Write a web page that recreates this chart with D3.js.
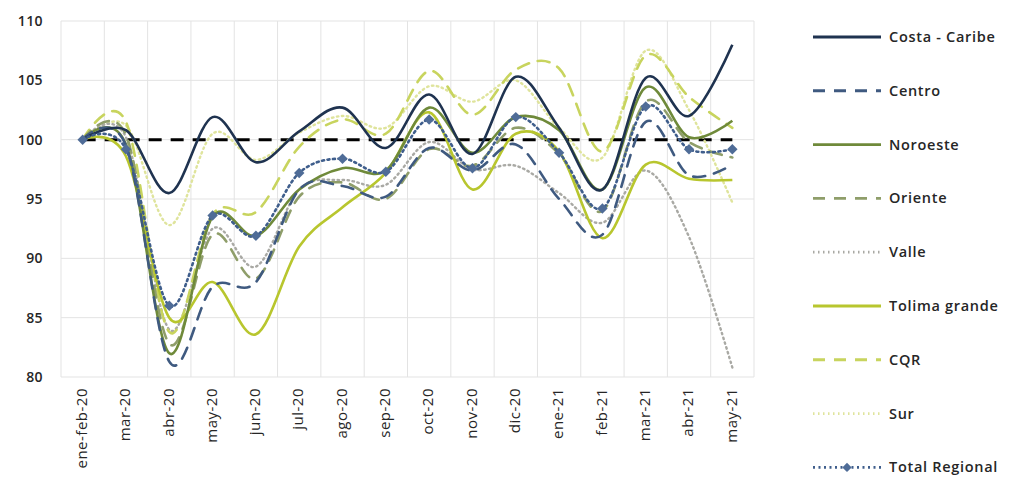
<!DOCTYPE html>
<html><head><meta charset="utf-8">
<script src="https://cdn.jsdelivr.net/npm/d3@7"></script>
<style>
body{margin:0;background:#fff;}
text{font-family:"Open Sans","Lato",sans-serif;}
</style></head>
<body><svg id="c" width="1011" height="477"></svg>
<script>
const categories = ["ene-feb-20","mar-20","abr-20","may-20","jun-20","jul-20","ago-20","sep-20","oct-20","nov-20","dic-20","ene-21","feb-21","mar-21","abr-21","may-21"];
const yTicks = [80,85,90,95,100,105,110];
const referenceValue = 100;
const costaCaribe   = [100,100.8,95.5,101.9,98.1,100.7,102.7,99.3,103.8,98.8,105.3,101.0,95.8,105.2,102.0,108.0];
const centro        = [100,99.5,81.3,87.6,88.0,95.8,96.1,95.2,99.3,97.4,99.6,95.0,92.0,101.5,97.0,97.9];
const noroeste      = [100,99.6,82.0,93.5,91.9,95.8,97.6,97.4,102.7,98.9,101.9,100.8,95.8,104.4,100.2,101.6];
const oriente       = [100,100.4,82.8,92.0,88.3,95.2,96.4,95.0,99.2,97.8,101.0,98.8,94.0,103.2,99.8,98.5];
const valle         = [100,100.2,84.0,92.5,89.3,95.8,96.6,96.2,99.8,97.5,97.8,95.5,93.0,97.4,91.8,80.8];
const tolimaGrande  = [100,98.6,85.0,88.0,83.6,91.0,94.3,97.2,102.3,95.8,100.5,99.0,91.7,97.9,96.7,96.6];
const cqr           = [100,101.5,83.8,93.7,93.9,99.4,101.7,100.5,105.8,102.1,105.9,106.0,99.0,107.1,103.6,101.0];
const sur           = [100,101.2,92.8,100.5,98.3,100.6,102.0,101.0,104.5,103.2,105.0,101.0,98.5,107.5,102.5,94.7];
const totalRegional = [100,99.2,86.0,93.6,91.9,97.2,98.4,97.3,101.7,97.6,101.9,98.9,94.2,102.8,99.2,99.2];

const seriesNames = ["Costa - Caribe","Centro","Noroeste","Oriente","Valle","Tolima grande","CQR","Sur","Total Regional"];
const seriesValues = [costaCaribe,centro,noroeste,oriente,valle,tolimaGrande,cqr,sur,totalRegional];
const styles = [
  {c:"#1f3350",w:2.6,d:null},
  {c:"#3f5a80",w:2.6,d:"12,9"},
  {c:"#6f8a3a",w:2.6,d:null},
  {c:"#8f9e6a",w:2.6,d:"12,9"},
  {c:"#a9a9a4",w:2.4,d:"1.5,3.5"},
  {c:"#b8c62e",w:2.6,d:null},
  {c:"#c8d45e",w:2.6,d:"12,9"},
  {c:"#dfe49c",w:2.4,d:"1.5,3.5"},
  {c:"#3f5e8c",w:2.6,d:"2,3.5",m:true}
];

const svg = d3.select("#c");
const L=61,R=754,T=21,B=377;
const x = d3.scaleBand().domain(categories).range([L,R]).padding(0);
const y = d3.scaleLinear().domain([80,110]).range([B,T]);
const cx = c => x(c)+x.bandwidth()/2;

// grid
const g = svg.append("g");
g.selectAll(".h").data(yTicks).join("line")
  .attr("x1",L).attr("x2",R).attr("y1",d=>y(d)).attr("y2",d=>y(d))
  .attr("stroke","#e3e3e3").attr("stroke-width",1);
const bounds = categories.map(c=>x(c)).concat([R]);
g.selectAll(".v").data(bounds).join("line")
  .attr("x1",d=>d).attr("x2",d=>d).attr("y1",T).attr("y2",B)
  .attr("stroke","#e3e3e3").attr("stroke-width",1);

// y axis
const ya = svg.append("g").attr("transform",`translate(${L-18},0)`)
  .call(d3.axisLeft(y).tickValues(yTicks).tickSize(0).tickPadding(0));
ya.select(".domain").remove();
ya.selectAll("text").attr("font-size",14).attr("font-weight",600).attr("fill","#262626")
  .attr("font-family","Open Sans").attr("letter-spacing",0.4);

// x axis
const xa = svg.append("g").attr("transform",`translate(0,${B})`)
  .call(d3.axisBottom(x).tickSize(0).tickPadding(0));
xa.select(".domain").remove();
xa.selectAll("text").attr("font-size",15).attr("font-weight",500).attr("fill","#262626")
  .attr("font-family","Open Sans").attr("letter-spacing",0.5)
  .attr("text-anchor","end").attr("transform","translate(-1,11) rotate(-90)")
  .attr("dy","0.35em").attr("y",0).attr("x",0);

// reference line
svg.append("line").attr("x1",cx(categories[0])).attr("x2",cx(categories[categories.length-1]))
  .attr("y1",y(referenceValue)).attr("y2",y(referenceValue))
  .attr("stroke","#000").attr("stroke-width",3).attr("stroke-dasharray","13,9");

const line = d3.line().x((d,i)=>cx(categories[i])).y(d=>y(d)).curve(d3.curveCatmullRom.alpha(0));

const order = [7,4,6,3,5,2,1,0,8];
order.forEach(k=>{
  const s=styles[k];
  svg.append("path").attr("d",line(seriesValues[k])).attr("fill","none")
    .attr("stroke",s.c).attr("stroke-width",s.w)
    .attr("stroke-dasharray",s.d).attr("stroke-linecap",(s.d&&s.d.length<8)?"round":"butt");
  if(s.m){
    svg.selectAll(".mk").data(seriesValues[k]).join("path")
      .attr("transform",(d,i)=>`translate(${cx(categories[i])},${y(d)})`)
      .attr("d",d3.symbol(d3.symbolDiamond2,70)()).attr("fill","#4f6c97");
  }
});

// legend
const lg = svg.append("g");
seriesNames.forEach((n,i)=>{
  const yy = 37 + i*53.8;
  const s=styles[i];
  lg.append("line").attr("x1",813).attr("x2",881).attr("y1",yy).attr("y2",yy)
    .attr("stroke",s.c).attr("stroke-width",s.w+0.3).attr("stroke-dasharray",s.d);
  if(s.m) lg.append("path").attr("transform",`translate(847,${yy})`)
    .attr("d",d3.symbol(d3.symbolDiamond2,55)()).attr("fill","#4f6c97");
  lg.append("text").attr("x",889).attr("y",yy).attr("dy","0.35em")
    .attr("font-size",14.5).attr("font-weight",600).attr("letter-spacing",0.7)
    .attr("fill","#262626").text(n);
});
</script></body></html>
